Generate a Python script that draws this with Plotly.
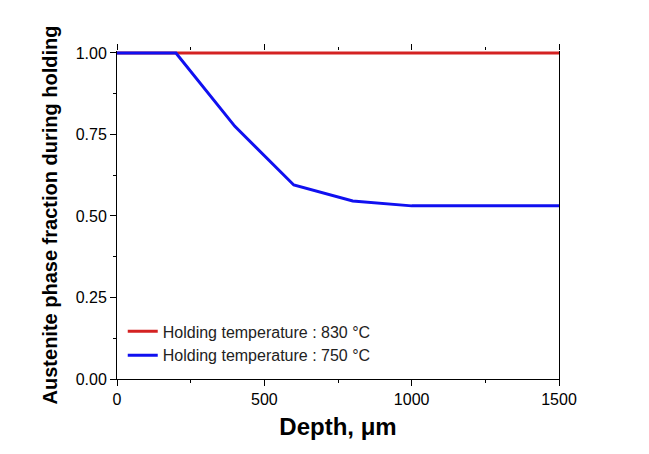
import plotly.graph_objects as go

# Data
depth_830 = [0, 1500]
frac_830 = [1.0, 1.0]

depth_750 = [0, 200, 400, 600, 800, 1000, 1500]
frac_750 = [1.0, 1.0, 0.775, 0.595, 0.546, 0.531, 0.531]

x_ticks = [0, 500, 1000, 1500]
y_ticks = [0.0, 0.25, 0.5, 0.75, 1.0]
y_tick_text = ["0.00", "0.25", "0.50", "0.75", "1.00"]

font = "Arial, Liberation Sans, sans-serif"

fig = go.Figure()
fig.add_trace(go.Scatter(
    x=depth_830, y=frac_830, mode="lines",
    line=dict(color="#d42222", width=3),
    name="Holding temperature : 830 \u00b0C",
))
fig.add_trace(go.Scatter(
    x=depth_750, y=frac_750, mode="lines",
    line=dict(color="#1010f0", width=3),
    name="Holding temperature : 750 \u00b0C",
))

axis_common = dict(
    showline=True, linecolor="black", linewidth=1,
    ticks="outside", ticklen=6, tickcolor="black", tickwidth=1,
    showgrid=False, zeroline=False, layer="below traces",
    tickfont=dict(family=font, size=16, color="black"),
)

fig.update_xaxes(
    range=[0, 1500], tickvals=x_ticks,
    minor=dict(ticks="outside", ticklen=3, dtick=250, tickcolor="black", showgrid=False),
    title=dict(text="<b>Depth, \u03bcm</b>", font=dict(family=font, size=24, color="black"), standoff=10),
    **axis_common,
)
# tiny headroom above 1.0 so the 830 C line is not clipped by the frame
fig.update_yaxes(
    range=[0, 1.006], tickvals=y_ticks, ticktext=y_tick_text, mirror=True,
    minor=dict(ticks="outside", ticklen=3, tickvals=[0.125, 0.375, 0.625, 0.875],
               tickcolor="black", showgrid=False),
    title=dict(text="<b>Austenite phase fraction during holding</b>", font=dict(family=font, size=20, color="black"), standoff=12),
    **axis_common,
)

# page body has an 8px margin, so the figure is sized to fit the window
fig.update_layout(
    width=641, height=446,
    margin=dict(l=109, r=90, t=43, b=75),
    paper_bgcolor="white", plot_bgcolor="white",
    showlegend=True,
    # top axis: ticks only, the red 830 C line sits on the frame edge
    xaxis2=dict(
        overlaying="x", side="top", matches="x", range=[0, 1500],
        tickvals=x_ticks, showticklabels=False, showline=False,
        ticks="outside", ticklen=6, tickcolor="black", showgrid=False, zeroline=False,
        minor=dict(ticks="outside", ticklen=3, dtick=250, tickcolor="black", showgrid=False),
    ),
    legend=dict(
        x=0.013, y=0.02, xanchor="left", yanchor="bottom",
        bgcolor="rgba(0,0,0,0)", borderwidth=0,
        font=dict(family=font, size=16, color="#222"),
        itemwidth=30, tracegroupgap=0,
    ),
)
# invisible carrier so the top axis is drawn
fig.add_trace(go.Scatter(x=depth_830, y=frac_830, xaxis="x2", mode="lines",
                         line=dict(width=0), hoverinfo="skip", showlegend=False))

fig.write_html("out.html")
